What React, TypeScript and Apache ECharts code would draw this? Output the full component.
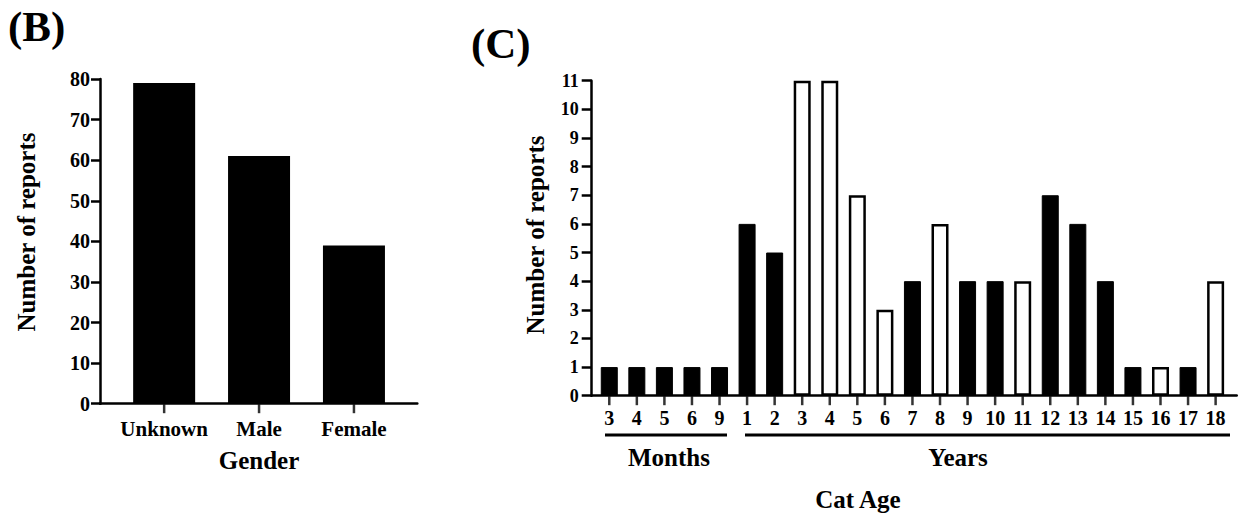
import React, { useEffect, useRef } from "react";
import * as echarts from "echarts";

const genderCategories = ["Unknown", "Male", "Female"];
const genderCounts = [79, 61, 39];

const ageLabels = ["3", "4", "5", "6", "9", "1", "2", "3", "4", "5", "6", "7", "8", "9", "10", "11", "12", "13", "14", "15", "16", "17", "18"];
const ageCounts = [1, 1, 1, 1, 1, 6, 5, 11, 11, 7, 3, 4, 6, 4, 4, 4, 7, 6, 4, 1, 1, 1, 4];
const ageOpenBar = [false, false, false, false, false, false, false, true, true, true, true, false, true, false, false, true, false, false, false, false, true, false, true];

const FONT = '"Liberation Serif", "Times New Roman", serif';

export default function App() {
  const ref = useRef<HTMLDivElement>(null);
  useEffect(() => {
    if (!ref.current) return;
    const chart = echarts.init(ref.current, null, { renderer: "svg" });
    const axisLine = { show: true, onZero: false, lineStyle: { color: "#000", width: 2.5 } };
    const axisTick = { show: true, inside: false, length: 9, lineStyle: { color: "#000", width: 2.5 } };
    const hiddenAxis = { show: false };
    const tickMarkSeries = (xAxisIndex: number, yAxisIndex: number, n: number) => ({
      type: "scatter",
      xAxisIndex,
      yAxisIndex,
      clip: false,
      silent: true,
      z: 5,
      symbol: "rect",
      symbolSize: [2.5, 9],
      symbolOffset: [0, 5],
      itemStyle: { color: "#000" },
      data: Array.from({ length: n }, (_, i) => [i, 0]),
    });
    chart.setOption({
      animation: false,
      backgroundColor: "#fff",
      textStyle: { fontFamily: FONT },
      grid: [
        // frames (axis lines)
        { left: 100, top: 79, width: 317.3, height: 324.7 },
        { left: 591.7, top: 80.7, width: 645, height: 315 },
        // plotting bands
        { left: 116.7, top: 79, width: 284.7, height: 324.7 },
        { left: 595.5, top: 80.7, width: 633.9, height: 315 },
      ],
      xAxis: [
        {
          gridIndex: 0, type: "value", min: 0, max: 1,
          splitLine: { show: false }, axisLine, axisTick: { show: false }, axisLabel: { show: false },
        },
        {
          gridIndex: 1, type: "value", min: 0, max: 1,
          splitLine: { show: false }, axisLine, axisTick: { show: false }, axisLabel: { show: false },
        },
        {
          gridIndex: 2,
          type: "category",
          data: genderCategories,
          boundaryGap: true,
          axisLine: { show: false },
          axisTick: { show: false },
          axisLabel: {
            interval: 0, color: "#000", fontFamily: FONT, fontWeight: "bold", fontSize: 21, margin: 15,
          },
        },
        {
          gridIndex: 3,
          type: "category",
          data: ageLabels,
          boundaryGap: true,
          axisLine: { show: false },
          axisTick: { show: false },
          axisLabel: {
            interval: 0, color: "#000", fontFamily: FONT, fontWeight: "bold", fontSize: 20, margin: 12,
          },
        },
      ],
      yAxis: [
        {
          gridIndex: 0, type: "value", min: 0, max: 80, interval: 10,
          splitLine: { show: false }, axisLine, axisTick,
          axisLabel: { color: "#000", fontFamily: FONT, fontWeight: "bold", fontSize: 20, margin: 10 },
        },
        {
          gridIndex: 1, type: "value", min: 0, max: 11, interval: 1,
          splitLine: { show: false }, axisLine, axisTick: { ...axisTick, length: 10 },
          axisLabel: { color: "#000", fontFamily: FONT, fontWeight: "bold", fontSize: 18, margin: 13 },
        },
        { gridIndex: 2, type: "value", min: 0, max: 80, ...hiddenAxis },
        { gridIndex: 3, type: "value", min: 0, max: 11, ...hiddenAxis },
      ],
      series: [
        {
          type: "bar",
          xAxisIndex: 2,
          yAxisIndex: 2,
          barWidth: 62,
          data: genderCounts,
          itemStyle: { color: "#000" },
        },
        {
          type: "bar",
          xAxisIndex: 3,
          yAxisIndex: 3,
          barWidth: 17,
          data: ageCounts.map((v, i) => ({
            value: v,
            itemStyle: ageOpenBar[i]
              ? { color: "#fff", borderColor: "#000", borderWidth: 2.5 }
              : { color: "#000", borderColor: "#000", borderWidth: 1 },
          })),
        },
        tickMarkSeries(2, 2, genderCategories.length),
        tickMarkSeries(3, 3, ageLabels.length),
      ],
      graphic: [
        { type: "text", x: 8, y: 5, style: { text: "(B)", font: `bold 43px ${FONT}`, fill: "#000" } },
        { type: "text", x: 471, y: 22, style: { text: "(C)", font: `bold 43px ${FONT}`, fill: "#000" } },
        {
          type: "text", x: 26, y: 232, rotation: Math.PI / 2,
          style: { text: "Number of reports", font: `bold 25px ${FONT}`, fill: "#000", align: "center", verticalAlign: "middle" },
        },
        {
          type: "text", x: 259, y: 460,
          style: { text: "Gender", font: `bold 25px ${FONT}`, fill: "#000", align: "center", verticalAlign: "middle" },
        },
        {
          type: "text", x: 535, y: 235, rotation: Math.PI / 2,
          style: { text: "Number of reports", font: `bold 25px ${FONT}`, fill: "#000", align: "center", verticalAlign: "middle" },
        },
        { type: "line", shape: { x1: 605, y1: 435, x2: 727, y2: 435 }, style: { stroke: "#000", lineWidth: 3 } },
        { type: "line", shape: { x1: 745, y1: 435, x2: 1230, y2: 435 }, style: { stroke: "#000", lineWidth: 3 } },
        {
          type: "text", x: 669, y: 457,
          style: { text: "Months", font: `bold 25px ${FONT}`, fill: "#000", align: "center", verticalAlign: "middle" },
        },
        {
          type: "text", x: 958, y: 457,
          style: { text: "Years", font: `bold 25px ${FONT}`, fill: "#000", align: "center", verticalAlign: "middle" },
        },
        {
          type: "text", x: 858, y: 499,
          style: { text: "Cat Age", font: `bold 25px ${FONT}`, fill: "#000", align: "center", verticalAlign: "middle" },
        },
      ],
    });
    return () => chart.dispose();
  }, []);
  return <div ref={ref} style={{ position: "absolute", left: 0, top: 0, width: 1239, height: 514 }} />;
}
